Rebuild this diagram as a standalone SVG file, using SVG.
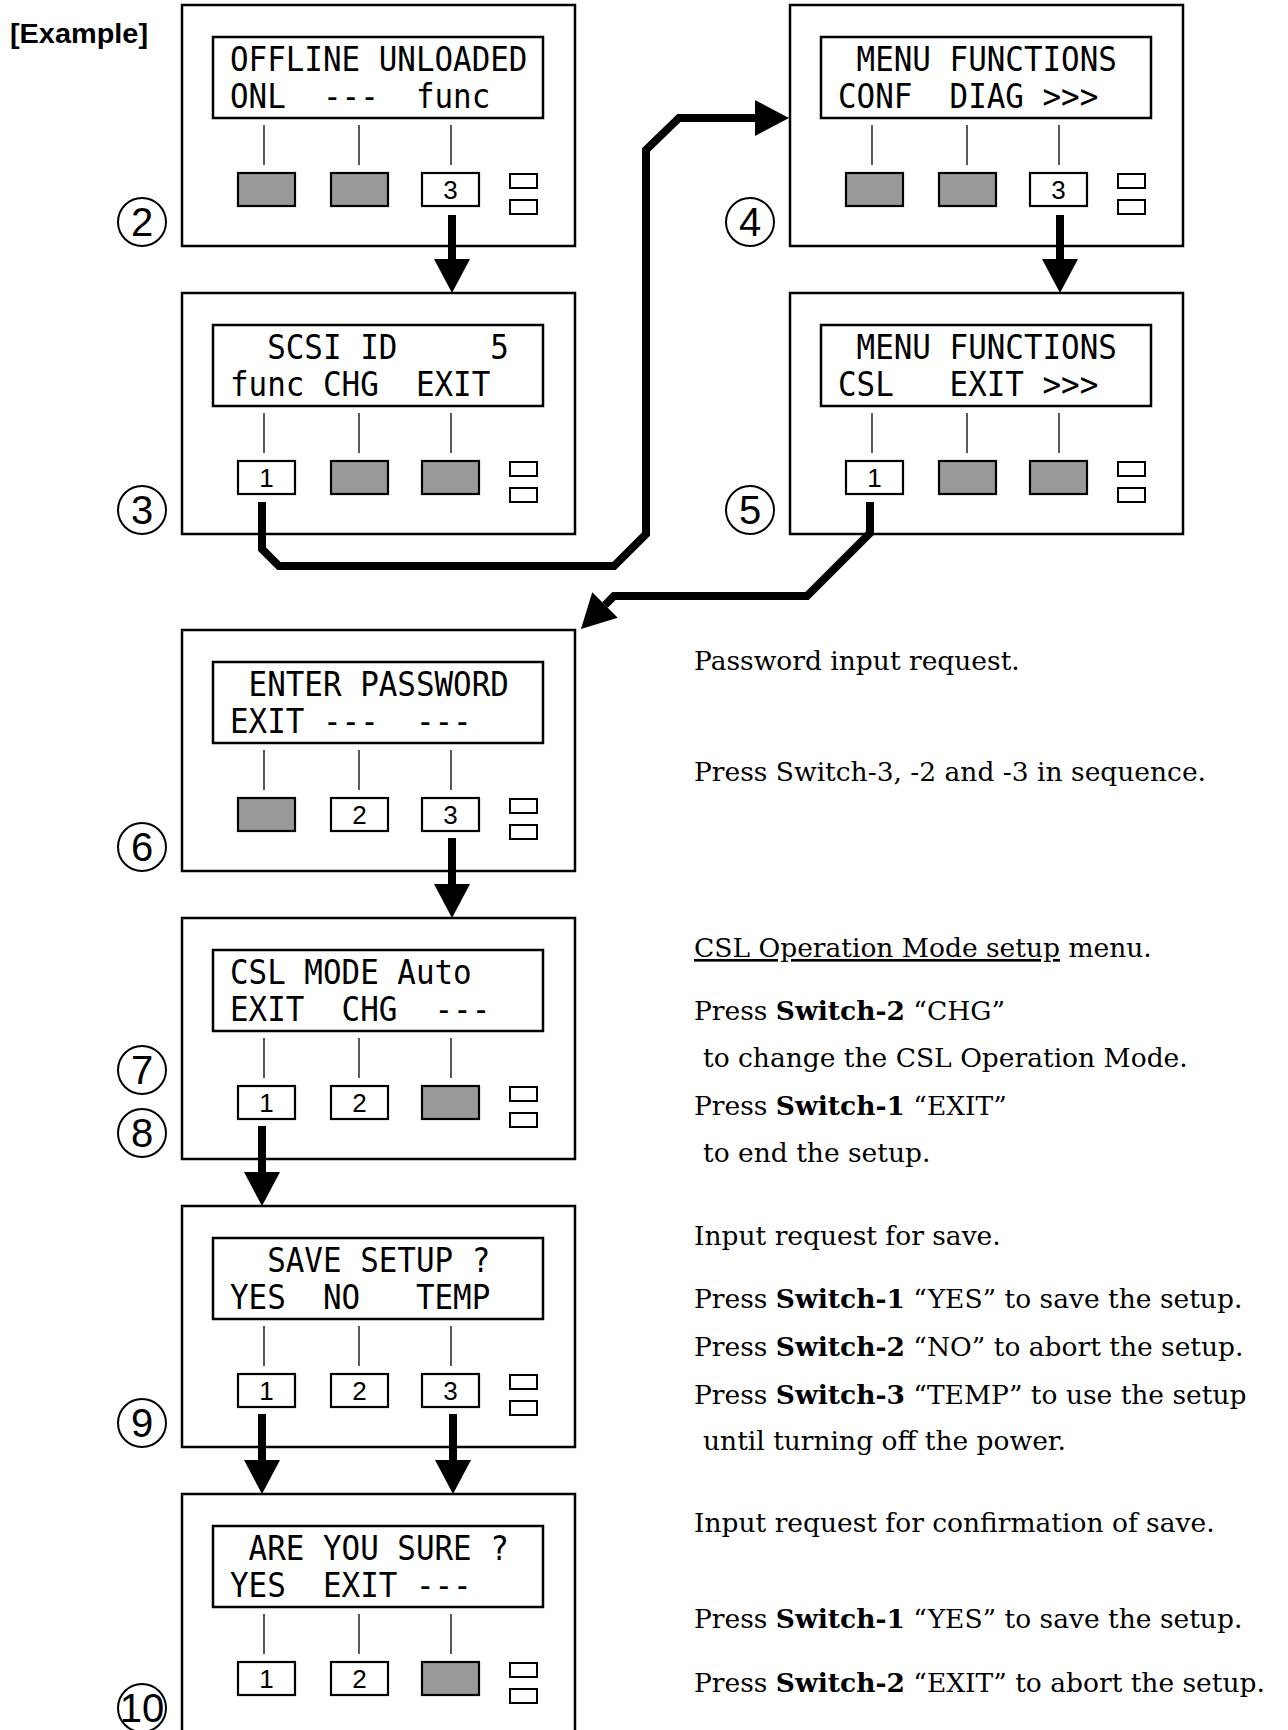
<svg xmlns="http://www.w3.org/2000/svg" width="1288" height="1730" viewBox="0 0 1288 1730">
<defs>
<style>
.outer{fill:#fff;stroke:#000;stroke-width:2.5}
.lcd{fill:#fff;stroke:#000;stroke-width:2.5}
.lcdt{font-family:"DejaVu Sans Mono",monospace;font-size:34px;fill:#000;white-space:pre}
.tick{stroke:#000;stroke-width:1.3;fill:none}
.btn{stroke:#000;stroke-width:2.2}
.off{fill:#999}
.on{fill:#fff}
.bnum{font-family:"Liberation Sans",Arial,sans-serif;font-size:26px;text-anchor:middle;fill:#000}
.ind{fill:#fff;stroke:#000;stroke-width:2}
.step{fill:#fff;stroke:#000;stroke-width:2}
.stepn{font-family:"Liberation Sans",Arial,sans-serif;font-size:40px;text-anchor:middle;fill:#000}
.conn{fill:none;stroke:#000;stroke-width:8;stroke-linejoin:miter}
.desc{font-family:"DejaVu Serif",serif;font-size:26.5px;fill:#000}
.b{font-weight:bold}
</style>
<marker id="ah" markerUnits="userSpaceOnUse" markerWidth="34" markerHeight="36" viewBox="0 0 34 36" refX="0" refY="18" orient="auto" overflow="visible">
<path d="M0,0 L34,18 L0,36 Z" fill="#000"/>
</marker>
</defs>
<rect width="1288" height="1730" fill="#fff"/>
<text x="10" y="43" font-family="Liberation Sans,Arial,sans-serif" font-weight="bold" font-size="28" textLength="138" lengthAdjust="spacingAndGlyphs">[Example]</text>

<g id="panel2" transform="translate(182,5)">
<rect class="outer" x="0" y="0" width="393" height="241"/>
<rect class="lcd" x="31" y="32" width="330" height="81"/>
<text class="lcdt" xml:space="preserve" transform="translate(48,66) scale(0.9087,1)">OFFLINE UNLOADED</text>
<text class="lcdt" xml:space="preserve" transform="translate(48,103) scale(0.9087,1)">ONL  ---  func</text>
<path class="tick" d="M82,120V160M177,120V160M269,120V160"/>
<rect class="btn off" x="56" y="168" width="57" height="33"/>
<rect class="btn off" x="149" y="168" width="57" height="33"/>
<rect class="btn on" x="240" y="168" width="57" height="33"/><text class="bnum" x="268.5" y="194">3</text>
<rect class="ind" x="328" y="169" width="27" height="14"/><rect class="ind" x="328" y="195" width="27" height="14"/>
<circle class="step" cx="-40" cy="217" r="24"/><text class="stepn" x="-40" y="231">2</text>
</g>

<g id="panel3" transform="translate(182,293)">
<rect class="outer" x="0" y="0" width="393" height="241"/>
<rect class="lcd" x="31" y="32" width="330" height="81"/>
<text class="lcdt" xml:space="preserve" transform="translate(48,66) scale(0.9087,1)">  SCSI ID     5</text>
<text class="lcdt" xml:space="preserve" transform="translate(48,103) scale(0.9087,1)">func CHG  EXIT</text>
<path class="tick" d="M82,120V160M177,120V160M269,120V160"/>
<rect class="btn on" x="56" y="168" width="57" height="33"/><text class="bnum" x="84.5" y="194">1</text>
<rect class="btn off" x="149" y="168" width="57" height="33"/>
<rect class="btn off" x="240" y="168" width="57" height="33"/>
<rect class="ind" x="328" y="169" width="27" height="14"/><rect class="ind" x="328" y="195" width="27" height="14"/>
<circle class="step" cx="-40" cy="217" r="24"/><text class="stepn" x="-40" y="231">3</text>
</g>

<g id="panel4" transform="translate(790,5)">
<rect class="outer" x="0" y="0" width="393" height="241"/>
<rect class="lcd" x="31" y="32" width="330" height="81"/>
<text class="lcdt" xml:space="preserve" transform="translate(48,66) scale(0.9087,1)"> MENU FUNCTIONS</text>
<text class="lcdt" xml:space="preserve" transform="translate(48,103) scale(0.9087,1)">CONF  DIAG &gt;&gt;&gt;</text>
<path class="tick" d="M82,120V160M177,120V160M269,120V160"/>
<rect class="btn off" x="56" y="168" width="57" height="33"/>
<rect class="btn off" x="149" y="168" width="57" height="33"/>
<rect class="btn on" x="240" y="168" width="57" height="33"/><text class="bnum" x="268.5" y="194">3</text>
<rect class="ind" x="328" y="169" width="27" height="14"/><rect class="ind" x="328" y="195" width="27" height="14"/>
<circle class="step" cx="-40" cy="217" r="24"/><text class="stepn" x="-40" y="231">4</text>
</g>

<g id="panel5" transform="translate(790,293)">
<rect class="outer" x="0" y="0" width="393" height="241"/>
<rect class="lcd" x="31" y="32" width="330" height="81"/>
<text class="lcdt" xml:space="preserve" transform="translate(48,66) scale(0.9087,1)"> MENU FUNCTIONS</text>
<text class="lcdt" xml:space="preserve" transform="translate(48,103) scale(0.9087,1)">CSL   EXIT &gt;&gt;&gt;</text>
<path class="tick" d="M82,120V160M177,120V160M269,120V160"/>
<rect class="btn on" x="56" y="168" width="57" height="33"/><text class="bnum" x="84.5" y="194">1</text>
<rect class="btn off" x="149" y="168" width="57" height="33"/>
<rect class="btn off" x="240" y="168" width="57" height="33"/>
<rect class="ind" x="328" y="169" width="27" height="14"/><rect class="ind" x="328" y="195" width="27" height="14"/>
<circle class="step" cx="-40" cy="217" r="24"/><text class="stepn" x="-40" y="231">5</text>
</g>

<g id="panel6" transform="translate(182,630)">
<rect class="outer" x="0" y="0" width="393" height="241"/>
<rect class="lcd" x="31" y="32" width="330" height="81"/>
<text class="lcdt" xml:space="preserve" transform="translate(48,66) scale(0.9087,1)"> ENTER PASSWORD</text>
<text class="lcdt" xml:space="preserve" transform="translate(48,103) scale(0.9087,1)">EXIT ---  ---</text>
<path class="tick" d="M82,120V160M177,120V160M269,120V160"/>
<rect class="btn off" x="56" y="168" width="57" height="33"/>
<rect class="btn on" x="149" y="168" width="57" height="33"/><text class="bnum" x="177.5" y="194">2</text>
<rect class="btn on" x="240" y="168" width="57" height="33"/><text class="bnum" x="268.5" y="194">3</text>
<rect class="ind" x="328" y="169" width="27" height="14"/><rect class="ind" x="328" y="195" width="27" height="14"/>
<circle class="step" cx="-40" cy="217" r="24"/><text class="stepn" x="-40" y="231">6</text>
</g>

<g id="panel7" transform="translate(182,918)">
<rect class="outer" x="0" y="0" width="393" height="241"/>
<rect class="lcd" x="31" y="32" width="330" height="81"/>
<text class="lcdt" xml:space="preserve" transform="translate(48,66) scale(0.9087,1)">CSL MODE Auto</text>
<text class="lcdt" xml:space="preserve" transform="translate(48,103) scale(0.9087,1)">EXIT  CHG  ---</text>
<path class="tick" d="M82,120V160M177,120V160M269,120V160"/>
<rect class="btn on" x="56" y="168" width="57" height="33"/><text class="bnum" x="84.5" y="194">1</text>
<rect class="btn on" x="149" y="168" width="57" height="33"/><text class="bnum" x="177.5" y="194">2</text>
<rect class="btn off" x="240" y="168" width="57" height="33"/>
<rect class="ind" x="328" y="169" width="27" height="14"/><rect class="ind" x="328" y="195" width="27" height="14"/>
<circle class="step" cx="-40" cy="152" r="24"/><text class="stepn" x="-40" y="166">7</text>
<circle class="step" cx="-40" cy="215" r="24"/><text class="stepn" x="-40" y="229">8</text>
</g>

<g id="panel9" transform="translate(182,1206)">
<rect class="outer" x="0" y="0" width="393" height="241"/>
<rect class="lcd" x="31" y="32" width="330" height="81"/>
<text class="lcdt" xml:space="preserve" transform="translate(48,66) scale(0.9087,1)">  SAVE SETUP ?</text>
<text class="lcdt" xml:space="preserve" transform="translate(48,103) scale(0.9087,1)">YES  NO   TEMP</text>
<path class="tick" d="M82,120V160M177,120V160M269,120V160"/>
<rect class="btn on" x="56" y="168" width="57" height="33"/><text class="bnum" x="84.5" y="194">1</text>
<rect class="btn on" x="149" y="168" width="57" height="33"/><text class="bnum" x="177.5" y="194">2</text>
<rect class="btn on" x="240" y="168" width="57" height="33"/><text class="bnum" x="268.5" y="194">3</text>
<rect class="ind" x="328" y="169" width="27" height="14"/><rect class="ind" x="328" y="195" width="27" height="14"/>
<circle class="step" cx="-40" cy="217" r="24"/><text class="stepn" x="-40" y="231">9</text>
</g>

<g id="panel10" transform="translate(182,1494)">
<rect class="outer" x="0" y="0" width="393" height="241"/>
<rect class="lcd" x="31" y="32" width="330" height="81"/>
<text class="lcdt" xml:space="preserve" transform="translate(48,66) scale(0.9087,1)"> ARE YOU SURE ?</text>
<text class="lcdt" xml:space="preserve" transform="translate(48,103) scale(0.9087,1)">YES  EXIT ---</text>
<path class="tick" d="M82,120V160M177,120V160M269,120V160"/>
<rect class="btn on" x="56" y="168" width="57" height="33"/><text class="bnum" x="84.5" y="194">1</text>
<rect class="btn on" x="149" y="168" width="57" height="33"/><text class="bnum" x="177.5" y="194">2</text>
<rect class="btn off" x="240" y="168" width="57" height="33"/>
<rect class="ind" x="328" y="169" width="27" height="14"/><rect class="ind" x="328" y="195" width="27" height="14"/>
<circle class="step" cx="-40" cy="214" r="24"/><text class="stepn" x="-40" y="228">10</text>
</g>

<g id="connectors">
<path class="conn" d="M452,215 V259" marker-end="url(#ah)"/>
<path class="conn" d="M262,502 V549 L279,566 H614 L646,534 V150 L679,118 H755" marker-end="url(#ah)"/>
<path class="conn" d="M1060,215 V259" marker-end="url(#ah)"/>
<path class="conn" d="M870,502 V533 L807,596 H614 L605,605" marker-end="url(#ah)"/>
<path class="conn" d="M452,838 V884" marker-end="url(#ah)"/>
<path class="conn" d="M262,1126 V1172" marker-end="url(#ah)"/>
<path class="conn" d="M262,1414 V1460" marker-end="url(#ah)"/>
<path class="conn" d="M453,1414 V1460" marker-end="url(#ah)"/>
</g>

<g id="descriptions">
<text class="desc" x="694" y="670">Password input request.</text>
<text class="desc" x="694" y="781">Press Switch-3, -2 and -3 in sequence.</text>
<text class="desc" x="694" y="957"><tspan text-decoration="underline">CSL Operation Mode setup</tspan> menu.</text>
<text class="desc" x="694" y="1020">Press <tspan class="b">Switch-2</tspan> “CHG”</text>
<text class="desc" x="703" y="1067">to change the CSL Operation Mode.</text>
<text class="desc" x="694" y="1115">Press <tspan class="b">Switch-1</tspan> “EXIT”</text>
<text class="desc" x="703" y="1162">to end the setup.</text>
<text class="desc" x="694" y="1245">Input request for save.</text>
<text class="desc" x="694" y="1308">Press <tspan class="b">Switch-1</tspan> “YES” to save the setup.</text>
<text class="desc" x="694" y="1356">Press <tspan class="b">Switch-2</tspan> “NO” to abort the setup.</text>
<text class="desc" x="694" y="1404">Press <tspan class="b">Switch-3</tspan> “TEMP” to use the setup</text>
<text class="desc" x="703" y="1450">until turning off the power.</text>
<text class="desc" x="694" y="1532">Input request for confirmation of save.</text>
<text class="desc" x="694" y="1628">Press <tspan class="b">Switch-1</tspan> “YES” to save the setup.</text>
<text class="desc" x="694" y="1692">Press <tspan class="b">Switch-2</tspan> “EXIT” to abort the setup.</text>
</g>
</svg>
